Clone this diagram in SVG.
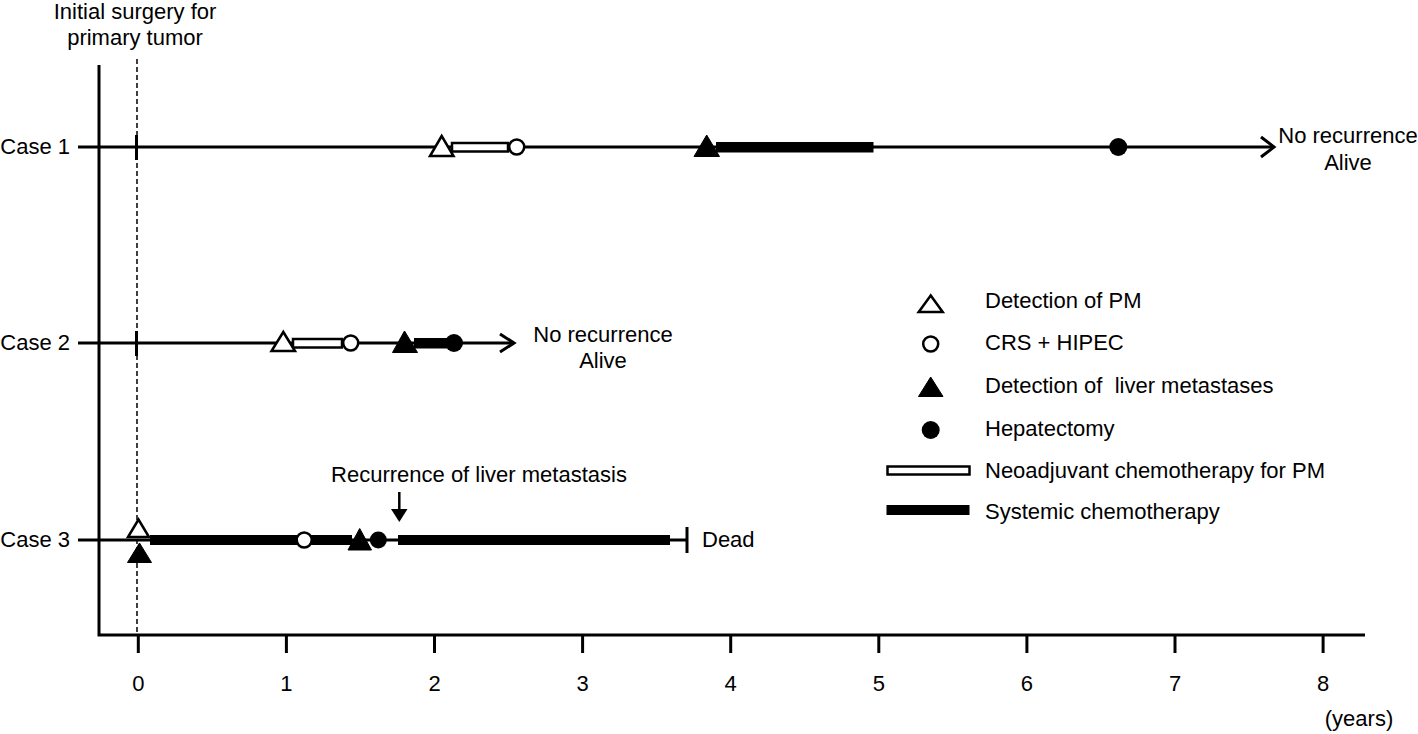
<svg xmlns="http://www.w3.org/2000/svg" width="1418" height="734" viewBox="0 0 1418 734">
<style>
text{font-family:"Liberation Sans",Arial,sans-serif;font-size:22px;fill:#000}
.ax{stroke:#000;stroke-width:3;fill:none}
.ln{stroke:#000;stroke-width:3;fill:none}
.dash{stroke:#000;stroke-width:1.5;stroke-dasharray:5 3;fill:none}
.ot{fill:#fff;stroke:#000;stroke-width:2.5;stroke-linejoin:miter}
.ft{fill:#000;stroke:#000;stroke-width:1}
.oc{fill:#fff;stroke:#000;stroke-width:2.5}
.fc{fill:#000}
.nb{fill:#fff;stroke:#000;stroke-width:2.5}
.sb{fill:#000}
.mid{text-anchor:middle}
.end{text-anchor:end}
</style>
<rect width="1418" height="734" fill="#fff"/>

<g id="axes">
<polyline class="ax" points="99,65 99,635 1365,635"/>
<g class="ax">
<line x1="138.3" y1="635" x2="138.3" y2="653"/>
<line x1="286.4" y1="635" x2="286.4" y2="653"/>
<line x1="434.5" y1="635" x2="434.5" y2="653"/>
<line x1="582.6" y1="635" x2="582.6" y2="653"/>
<line x1="730.7" y1="635" x2="730.7" y2="653"/>
<line x1="878.8" y1="635" x2="878.8" y2="653"/>
<line x1="1026.9" y1="635" x2="1026.9" y2="653"/>
<line x1="1175" y1="635" x2="1175" y2="653"/>
<line x1="1323.1" y1="635" x2="1323.1" y2="653"/>
</g>
<g class="mid">
<text x="138.3" y="691">0</text>
<text x="286.4" y="691">1</text>
<text x="434.5" y="691">2</text>
<text x="582.6" y="691">3</text>
<text x="730.7" y="691">4</text>
<text x="878.8" y="691">5</text>
<text x="1026.9" y="691">6</text>
<text x="1175" y="691">7</text>
<text x="1323.1" y="691">8</text>
</g>
<text x="1359" y="726" class="mid">(years)</text>
<line class="dash" x1="137" y1="59" x2="137" y2="634"/>
<text x="135" y="19" class="mid">Initial surgery for</text>
<text x="135" y="45" class="mid">primary tumor</text>
</g>

<g id="case1">
<text x="70" y="154" class="end">Case 1</text>
<line class="ln" x1="78" y1="147" x2="1274" y2="147"/>
<polyline class="ln" points="1261,137 1274,147 1261,157"/>
<line class="ln" x1="136.5" y1="135" x2="136.5" y2="160"/>
<rect class="nb" x="452" y="143" width="56" height="8.5"/>
<rect class="sb" x="716" y="142" width="157.5" height="10.5"/>
<polygon class="ot" points="441.7,136 430,156 453.5,156"/>
<circle class="oc" cx="516.7" cy="147" r="7.5"/>
<polygon class="ft" points="706.7,135 694,156.5 719.5,156.5"/>
<circle class="fc" cx="1118.3" cy="147" r="9"/>
<text x="1348" y="143" class="mid">No recurrence</text>
<text x="1348" y="170" class="mid">Alive</text>
</g>

<g id="case2">
<text x="70" y="350" class="end">Case 2</text>
<line class="ln" x1="78" y1="343" x2="514" y2="343"/>
<polyline class="ln" points="500,334 514,343 500,352"/>
<line class="ln" x1="136.5" y1="331" x2="136.5" y2="356"/>
<rect class="nb" x="293" y="339" width="49" height="8.5"/>
<rect class="sb" x="414" y="338" width="33" height="10.5"/>
<polygon class="ot" points="283.3,332 271.5,351 295,351"/>
<circle class="oc" cx="350.7" cy="343" r="7.5"/>
<polygon class="ft" points="404.5,331 392.5,352.5 417.5,352.5"/>
<circle class="fc" cx="454" cy="343" r="9"/>
<text x="603" y="342" class="mid">No recurrence</text>
<text x="603" y="368" class="mid">Alive</text>
</g>

<g id="case3">
<text x="70" y="547" class="end">Case 3</text>
<line class="ln" x1="78" y1="540" x2="686" y2="540"/>
<line class="ln" x1="687" y1="527" x2="687" y2="553"/>
<rect class="sb" x="150" y="535" width="202" height="10"/>
<rect class="sb" x="398" y="535" width="272" height="10"/>
<polygon class="ot" points="138.5,519.5 128,537 149,537"/>
<polygon class="ft" points="139.5,543 127.5,562.5 151.5,562.5"/>
<circle class="oc" cx="304.2" cy="540" r="7.5"/>
<polygon class="ft" points="359.7,528.5 348,550 371.5,550"/>
<circle class="fc" cx="378.3" cy="540" r="8.5"/>
<line x1="399.3" y1="492" x2="399.3" y2="511" stroke="#000" stroke-width="2.5"/>
<polygon class="fc" points="391,509 407.5,509 399.3,522"/>
<text x="479" y="482" class="mid">Recurrence of liver metastasis</text>
<text x="702" y="547">Dead</text>
</g>

<g id="legend">
<polygon class="ot" points="930.7,295.5 918.7,312 942.7,312"/>
<text x="985" y="308">Detection of PM</text>
<circle class="oc" cx="930.7" cy="344" r="7.5"/>
<text x="985" y="350">CRS + HIPEC</text>
<polygon class="ft" points="930.7,377 918.5,396.5 943,396.5"/>
<text x="985" y="393" xml:space="preserve">Detection of  liver metastases</text>
<circle class="fc" cx="930.7" cy="430" r="9"/>
<text x="985" y="436">Hepatectomy</text>
<rect class="nb" x="887.5" y="466.5" width="82" height="8"/>
<text x="985" y="478">Neoadjuvant chemotherapy for PM</text>
<rect class="sb" x="886.5" y="505" width="83" height="10"/>
<text x="985" y="519">Systemic chemotherapy</text>
</g>
</svg>
